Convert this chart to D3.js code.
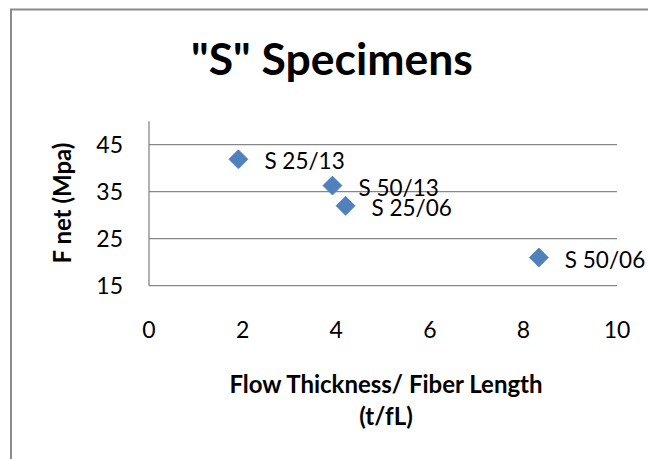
<!DOCTYPE html>
<html>
<head>
<meta charset="utf-8">
<script src="https://cdn.jsdelivr.net/npm/d3@7"></script>
<style>
  html, body { margin: 0; padding: 0; background: #fff; }
  svg { display: block; font-family: Lato, "Open Sans", sans-serif; }
</style>
</head>
<body>
<svg id="chart" width="648" height="459"></svg>
<script>
// ---- data ----
const specimenNames = ["S 25/13", "S 50/13", "S 25/06", "S 50/06"];
const thicknessRatio = [1.91, 3.92, 4.2, 8.33];
const fNet = [41.9, 36.3, 32.0, 21.0];
const xTickValues = [0, 2, 4, 6, 8, 10];
const yTickValues = [15, 25, 35, 45];
const titleText = "\"S\" Specimens";
const yTitleText = "F net (Mpa)";
const xTitleLines = ["Flow Thickness/ Fiber Length", "(t/fL)"];

const svg = d3.select("#chart");
const grey = "#878787";

// chart area border (right and bottom edges lie outside the picture)
svg.append("rect")
  .attr("x", 11).attr("y", 9.5)
  .attr("width", 720).attr("height", 520)
  .attr("fill", "none").attr("stroke", "#8a8a8a").attr("stroke-width", 2);

const x = d3.scaleLinear().domain([0, 10]).range([149, 617]);
const y = d3.scaleLinear().domain([15, 50]).range([285.7, 121.2]);

// title
svg.append("text")
  .attr("x", 332).attr("y", 75)
  .attr("text-anchor", "middle")
  .attr("font-weight", "bold").attr("font-size", 44.5)
  .text(titleText);

// gridlines
svg.append("g").selectAll("line").data(yTickValues).join("line")
  .attr("x1", x(0)).attr("x2", x(10))
  .attr("y1", d => y(d)).attr("y2", d => y(d))
  .attr("stroke", grey).attr("stroke-width", 1.3);

// y axis line
svg.append("line")
  .attr("x1", x(0)).attr("x2", x(0))
  .attr("y1", y(50)).attr("y2", y(15))
  .attr("stroke", grey).attr("stroke-width", 1.3);

// y tick labels
svg.append("g").selectAll("text").data(yTickValues).join("text")
  .attr("x", 123).attr("y", d => y(d) + 8)
  .attr("text-anchor", "end").attr("font-size", 23)
  .text(d => d);

// x tick labels
svg.append("g").selectAll("text").data(xTickValues).join("text")
  .attr("x", d => x(d)).attr("y", 338)
  .attr("text-anchor", "middle").attr("font-size", 23)
  .text(d => d);

// x axis title
svg.append("g").selectAll("text").data(xTitleLines).join("text")
  .attr("x", 386).attr("y", (d, i) => 393 + i * 32)
  .attr("text-anchor", "middle")
  .attr("font-weight", "bold").attr("font-size", 24)
  .text(d => d);

// y axis title
svg.append("text")
  .attr("transform", "translate(71,203) rotate(-90)")
  .attr("text-anchor", "middle")
  .attr("font-weight", "bold").attr("font-size", 24)
  .text(yTitleText);

// points
const pts = specimenNames.map((n, i) => ({ name: n, x: thicknessRatio[i], y: fNet[i] }));
const diamond = d3.symbol().type(d3.symbolSquare).size(180);

svg.append("g").selectAll("path").data(pts).join("path")
  .attr("d", diamond)
  .attr("transform", d => `translate(${x(d.x)},${y(d.y)}) rotate(45)`)
  .attr("fill", "#4f81bd").attr("stroke", "#4a7ebb").attr("stroke-width", 0.75);

svg.append("g").selectAll("text").data(pts).join("text")
  .attr("x", d => x(d.x) + 26).attr("y", d => y(d.y) + 10)
  .attr("font-size", 22.5)
  .text(d => d.name);
</script>
</body>
</html>
